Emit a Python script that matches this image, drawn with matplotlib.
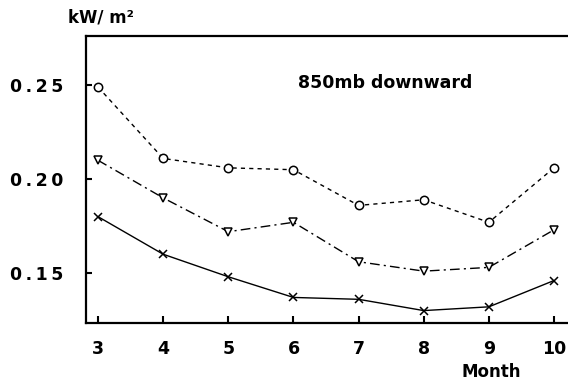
import matplotlib
matplotlib.use("Agg")
import matplotlib.pyplot as plt

months = [3, 4, 5, 6, 7, 8, 9, 10]
circle_vals = [0.249, 0.211, 0.206, 0.205, 0.186, 0.189, 0.177, 0.206]
triangle_vals = [0.210, 0.190, 0.172, 0.177, 0.156, 0.151, 0.153, 0.173]
cross_vals = [0.180, 0.160, 0.148, 0.137, 0.136, 0.130, 0.132, 0.146]
yticks = [0.15, 0.20, 0.25]
ytick_labels = ["0\u2009.\u20091\u20095", "0\u2009.\u20092\u20090", "0\u2009.\u20092\u20095"]
xtick_labels = ["3", "4", "5", "6", "7", "8", "9", "10"]

plt.rcParams['font.family'] = ['DejaVu Sans']
fig = plt.figure(figsize=(5.68, 3.82), dpi=100)
ax = fig.add_axes([0.1514, 0.1545, 0.8486, 0.7513])

common = dict(color='black', markerfacecolor='white', markeredgecolor='black',
              markersize=6, markeredgewidth=1.1, linewidth=1.0)
ax.plot(months, circle_vals, linestyle=(0, (3, 3)), marker='o', **common)
ax.plot(months, triangle_vals, linestyle=(0, (7, 3, 1.5, 3)), marker='v', **common)
ax.plot(months, cross_vals, linestyle='-', marker='x', **common)

ax.set_xlim(2.815, 10.215)
ax.set_ylim(0.1234, 0.2762)

ax.spines['right'].set_visible(False)
for s in ['left', 'top', 'bottom']:
    ax.spines[s].set_linewidth(1.6)

ax.set_yticks(yticks)
ax.set_yticklabels(ytick_labels, fontsize=12.5, fontweight='bold')
ax.set_xticks(months)
ax.set_xticklabels(xtick_labels, fontsize=12.5, fontweight='bold')
ax.tick_params(axis='y', direction='in', length=4, width=1.5, pad=16)
ax.tick_params(axis='x', direction='in', length=5, width=1.5, pad=12)

fig.text(0.12, 0.955, "kW/ m²", fontsize=12, fontweight='bold', ha='left', va='center')
ax.text(0.62, 0.835, "850mb downward", transform=ax.transAxes, fontsize=12.5,
        fontweight='bold', ha='center', va='center')
fig.text(0.865, 0.026, "Month", fontsize=12, fontweight='bold', ha='center', va='center')

fig.savefig("out.png", dpi=100)
